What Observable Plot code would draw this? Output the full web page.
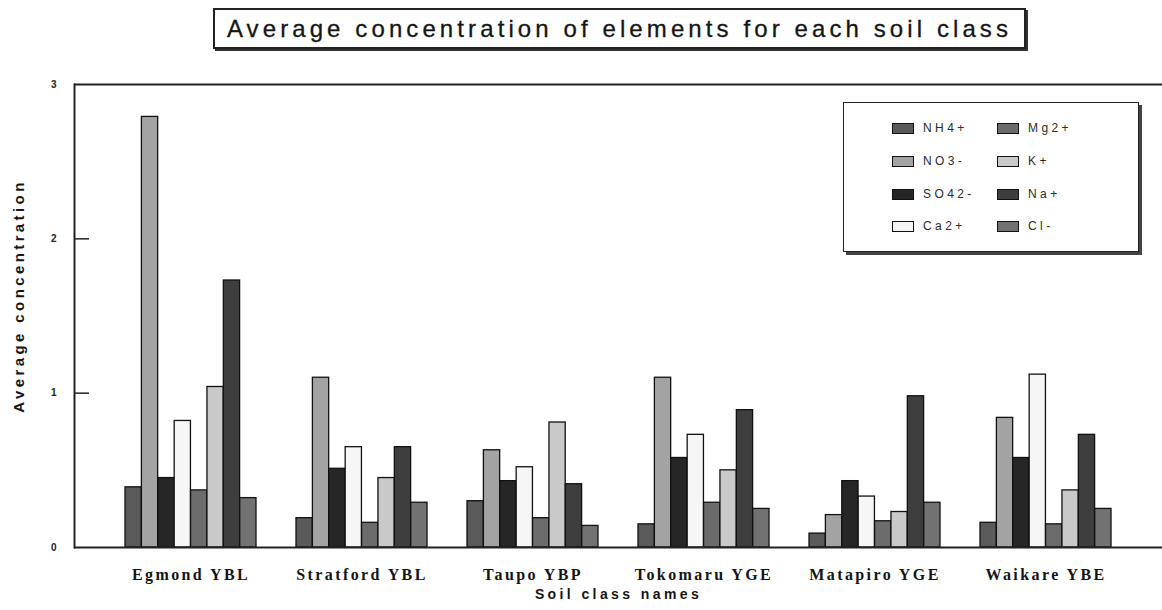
<!DOCTYPE html>
<html><head><meta charset="utf-8">
<script src="https://cdn.jsdelivr.net/npm/d3@7"></script>
<script src="https://cdn.jsdelivr.net/npm/@observablehq/plot@0.6"></script>
<style>
body{margin:0;background:#fff;}
#wrap{position:relative;width:1162px;height:610px;overflow:hidden;font-family:"Liberation Sans",Arial,sans-serif;background:#fff;}
#title{height:60px;position:relative;}
#title .box{position:absolute;left:213px;top:8px;width:813px;height:41px;box-sizing:border-box;border:2px solid #222;box-shadow:2px 2px 0 #333;display:flex;align-items:center;justify-content:center;font-size:24px;letter-spacing:4.1px;color:#151515;white-space:nowrap;-webkit-text-stroke:0.3px #151515;}
#chart svg{display:block;}
#legend{position:absolute;left:843px;top:102px;width:296px;height:150px;box-sizing:border-box;border:1.5px solid #222;box-shadow:3px 3px 0 #444;background:#fff;}
.item{position:absolute;display:flex;align-items:center;font-size:12px;letter-spacing:3.4px;color:#2a2a2a;height:14px;}
.sw{width:22px;height:11px;border:1.5px solid #111;box-sizing:border-box;margin-right:9px;}
</style></head><body>
<div id="wrap">
  <div id="title"><div class="box">Average concentration of elements for each soil class</div></div>
  <div id="chart"></div>
  <div id="legend"></div>
</div>
<script>
// ---- data ----
const soilClasses = ["Egmond YBL", "Stratford YBL", "Taupo YBP", "Tokomaru YGE", "Matapiro YGE", "Waikare YBE"];
const elements = ["NH4+", "NO3-", "SO42-", "Ca2+", "Mg2+", "K+", "Na+", "Cl-"];
const valuesNH4 = [0.39, 0.19, 0.30, 0.15, 0.09, 0.16];
const valuesNO3 = [2.79, 1.10, 0.63, 1.10, 0.21, 0.84];
const valuesSO4 = [0.45, 0.51, 0.43, 0.58, 0.43, 0.58];
const valuesCa  = [0.82, 0.65, 0.52, 0.73, 0.33, 1.12];
const valuesMg  = [0.37, 0.16, 0.19, 0.29, 0.17, 0.15];
const valuesK   = [1.04, 0.45, 0.81, 0.50, 0.23, 0.37];
const valuesNa  = [1.73, 0.65, 0.41, 0.89, 0.98, 0.73];
const valuesCl  = [0.32, 0.29, 0.14, 0.25, 0.29, 0.25];
const yTicks = [0, 1, 2, 3];
const colors = ["#5a5a5a", "#a3a3a3", "#262626", "#f6f6f6", "#6c6c6c", "#c9c9c9", "#3e3e3e", "#727272"];

const series = [valuesNH4, valuesNO3, valuesSO4, valuesCa, valuesMg, valuesK, valuesNa, valuesCl];
const table = [];
elements.forEach((el, i) => soilClasses.forEach((s, j) => table.push({soil: s, element: el, value: series[i][j]})));

// ---- layout ----
const W = 1162, H = 550, mL = 74, mR = 0, mT = 24, mB = 63;
const pIn = 0.234, pOut = 0.295;
const step = (W - mL - mR) / (soilClasses.length - pIn + 2 * pOut);
const bw = step * (1 - pIn);
const sub = bw / elements.length;

const marks = [];
elements.forEach((el, i) => {
  marks.push(Plot.barY(table.filter(d => d.element === el), {
    x: "soil", y: "value", fill: colors[i], stroke: "#111", strokeWidth: 1.3,
    insetLeft: i * sub, insetRight: (elements.length - 1 - i) * sub
  }));
});
marks.push(
  Plot.ruleY([0, 3], {stroke: "#222", strokeWidth: 2}),
  Plot.frame({anchor: "left", stroke: "#222", strokeWidth: 2}),
  Plot.tickY([1, 2], {y: d => d, stroke: "#222", strokeWidth: 1.5, insetRight: W - mL - mR - 15}),
  Plot.axisY({ticks: yTicks, tickSize: 0, tickPadding: 18, tickFormat: d => String(d), fontSize: 10, fontWeight: "bold", label: null, fill: "#222"}),
  Plot.axisX({tickSize: 0, tickPadding: 21, fontFamily: "Liberation Serif", fontWeight: "bold", fontSize: 16, label: null, fill: "#151515"}),
  Plot.text(["Average concentration"], {frameAnchor: "left", textAnchor: "middle", dx: -55, dy: -20, rotate: -90, fontWeight: "bold", fontSize: 15, fill: "#151515"}),
  Plot.text(["Soil class names"], {frameAnchor: "bottom", textAnchor: "middle", dy: 51, fontWeight: "bold", fontSize: 14, fill: "#151515"})
);

const chart = Plot.plot({
  width: W, height: H,
  marginLeft: mL, marginRight: mR, marginTop: mT, marginBottom: mB,
  style: {fontFamily: "Liberation Sans, Arial, sans-serif", background: "transparent"},
  x: {domain: soilClasses, paddingInner: pIn, paddingOuter: pOut},
  y: {domain: [0, 3]},
  marks
});
document.getElementById("chart").appendChild(chart);
d3.select(chart).selectAll('g[aria-label="text"] text').style("letter-spacing", "3.4px");
d3.select(chart).selectAll('g[aria-label="x-axis tick label"] text').style("letter-spacing", "2.4px");

// ---- legend ----
const legend = document.getElementById("legend");
const legendCols = [48, 153];
const legendRows = [18, 51, 84, 116];
elements.forEach((el, i) => {
  const item = document.createElement("div");
  item.className = "item";
  item.style.left = legendCols[Math.floor(i / 4)] + "px";
  item.style.top = legendRows[i % 4] + "px";
  item.innerHTML = `<span class="sw" style="background:${colors[i]}"></span><span>${el}</span>`;
  legend.appendChild(item);
});
</script>
</body></html>
